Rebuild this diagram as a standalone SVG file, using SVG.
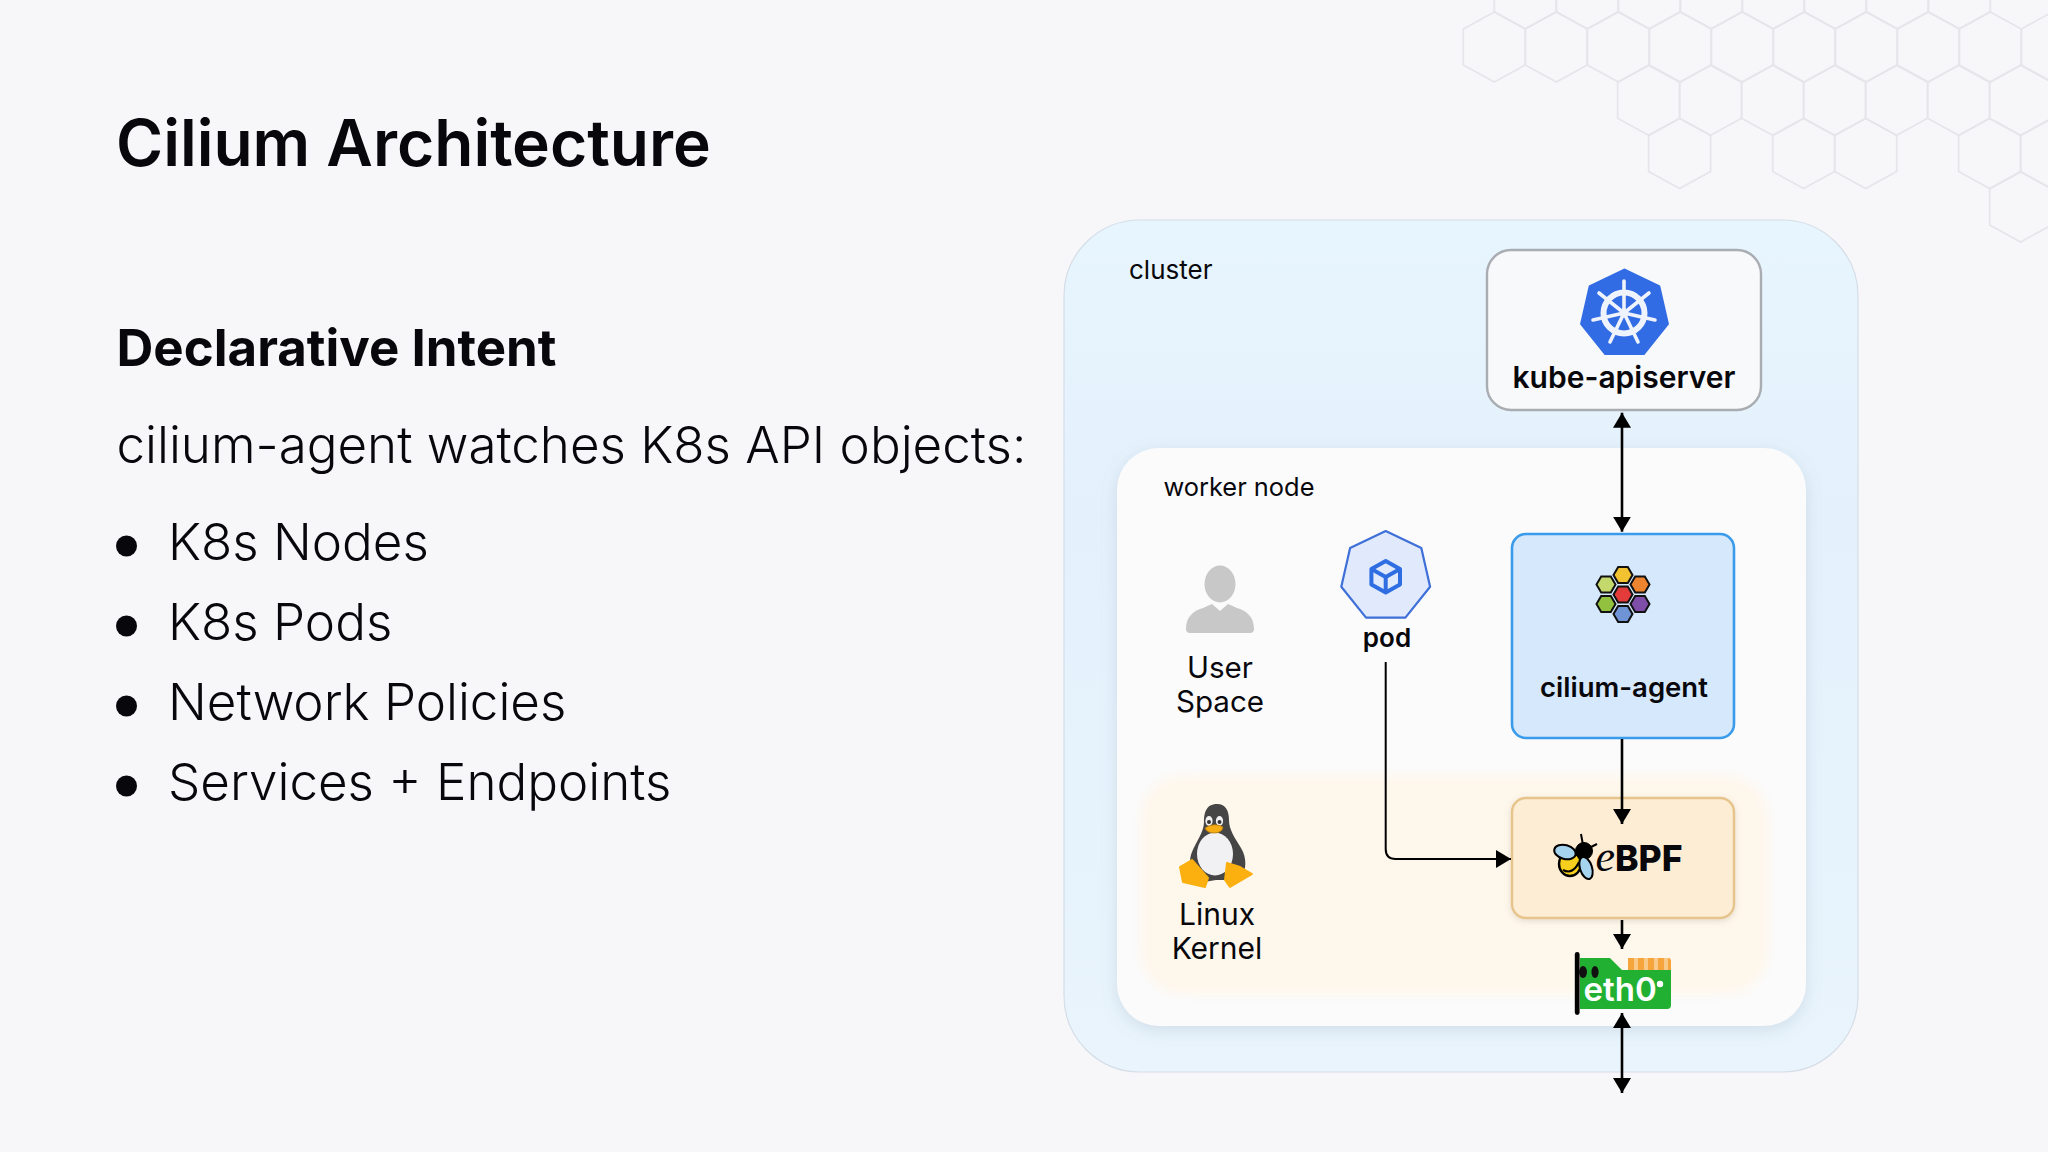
<svg xmlns="http://www.w3.org/2000/svg" xmlns:xlink="http://www.w3.org/1999/xlink" width="2048" height="1152" viewBox="0 0 2048 1152">
<style>
text{font-family:"Inter","Noto Sans",sans-serif;fill:#08080c}
.title{font-size:64px;font-weight:600}
.h2{font-size:51px;font-weight:700}
.body{font-size:51.1px;font-weight:300}
.lbl{font-size:26px;font-weight:400}
.lbl2{font-size:29.6px;font-weight:400;text-anchor:middle}
.b{font-weight:600;text-anchor:middle}
.hex{fill:none;stroke:#e5e5ea;stroke-width:1.7}
.conn{fill:none;stroke:#000;stroke-width:2.6}
.arr{marker-end:url(#ah)}
.both{marker-end:url(#ah);marker-start:url(#ah)}
.ch{stroke:#111;stroke-width:2}
</style>
<defs>
<marker id="ah" viewBox="0 0 15 18" refX="15" refY="9" markerWidth="15" markerHeight="18" markerUnits="userSpaceOnUse" orient="auto-start-reverse"><path d="M0,0 L15,9 L0,18 Z" fill="#000"/></marker>
<polygon id="hx" class="hex" points="0,-35 31,-18 31,18 0,35 -31,18 -31,-18"/>
<polygon id="ch" points="-9.5,0 -4.8,-8 4.8,-8 9.5,0 4.8,8 -4.8,8"/>
<linearGradient id="clusterG" x1="0" y1="0" x2="0" y2="1"><stop offset="0" stop-color="#e7f5fe"/><stop offset="0.35" stop-color="#e4f1fc"/><stop offset="1" stop-color="#e9f4fc"/></linearGradient>
<filter id="soft" x="-10%" y="-10%" width="120%" height="120%"><feDropShadow dx="0" dy="4" stdDeviation="8" flood-color="#7a8ca0" flood-opacity="0.22"/></filter>
<filter id="blur" x="-10%" y="-20%" width="120%" height="140%"><feGaussianBlur stdDeviation="6"/></filter>
<filter id="sm" x="-10%" y="-10%" width="120%" height="130%"><feDropShadow dx="0" dy="2" stdDeviation="3" flood-color="#8a7a5a" flood-opacity="0.22"/></filter>
</defs>
<rect width="2048" height="1152" fill="#f7f7fa"/>
<g id="hex-pattern">
<use href="#hx" x="1525.3" y="-6.3"/><use href="#hx" x="1587.3" y="-6.3"/><use href="#hx" x="1649.3" y="-6.3"/><use href="#hx" x="1711.3" y="-6.3"/><use href="#hx" x="1773.3" y="-6.3"/><use href="#hx" x="1835.3" y="-6.3"/><use href="#hx" x="1897.3" y="-6.3"/><use href="#hx" x="1959.3" y="-6.3"/>
<use href="#hx" x="1494.3" y="47"/><use href="#hx" x="1556.3" y="47"/><use href="#hx" x="1618.3" y="47"/><use href="#hx" x="1680.3" y="47"/><use href="#hx" x="1742.3" y="47"/><use href="#hx" x="1804.3" y="47"/><use href="#hx" x="1866.3" y="47"/><use href="#hx" x="1928.3" y="47"/><use href="#hx" x="1990.3" y="47"/><use href="#hx" x="2052.3" y="47"/>
<use href="#hx" x="1648.6" y="100.3"/><use href="#hx" x="1710.6" y="100.3"/><use href="#hx" x="1772.6" y="100.3"/><use href="#hx" x="1834.6" y="100.3"/><use href="#hx" x="1896.6" y="100.3"/><use href="#hx" x="1958.6" y="100.3"/><use href="#hx" x="2020.6" y="100.3"/>
<use href="#hx" x="1679.6" y="153.6"/><use href="#hx" x="1803.7" y="153.6"/><use href="#hx" x="1865.7" y="153.6"/><use href="#hx" x="1989.6" y="153.6"/><use href="#hx" x="2051.6" y="153.6"/>
<use href="#hx" x="2020.6" y="207"/>
</g>
<text class="title" x="116" y="165.5">Cilium Architecture</text>
<text class="h2" x="116.5" y="366">Declarative Intent</text>
<text class="body" x="116.5" y="463">cilium-agent watches K8s API objects:</text>
<g id="bullets">
<circle cx="126.5" cy="546" r="10.5" fill="#08080c"/><text class="body" x="168" y="560">K8s Nodes</text>
<circle cx="126.5" cy="626" r="10.5" fill="#08080c"/><text class="body" x="168" y="640">K8s Pods</text>
<circle cx="126.5" cy="706" r="10.5" fill="#08080c"/><text class="body" x="168" y="720">Network Policies</text>
<circle cx="126.5" cy="786" r="10.5" fill="#08080c"/><text class="body" x="168" y="800">Services + Endpoints</text>
</g>
<g id="cluster">
<rect x="1064" y="220" width="794" height="852" rx="76" fill="url(#clusterG)" stroke="#d5dde6" stroke-width="1.2"/>
<text class="lbl" x="1129" y="279">cluster</text>
</g>
<g id="worker-node">
<rect x="1117" y="448" width="689" height="578" rx="42" fill="#fbfbfc" filter="url(#soft)"/>
<text class="lbl" style="font-size:25.4px" x="1163.5" y="495.5">worker node</text>
</g>
<g id="kernel-band"><rect x="1140" y="775" width="629" height="220" rx="44" fill="#fef7ec" filter="url(#blur)"/></g>
<g id="kube-apiserver">
<rect x="1487" y="250" width="274" height="160" rx="24" fill="#f8f9fa" stroke="#a9acb1" stroke-width="2.4"/>
<polygon points="1624.5,270 1658.9,286.6 1667.4,323.8 1643.6,353.6 1605.4,353.6 1581.6,323.8 1590.1,286.6" fill="#326ce5" stroke="#326ce5" stroke-width="3" stroke-linejoin="round"/>
<g stroke="#eef3fd" fill="none" stroke-linecap="round"><circle cx="1624" cy="313" r="20.5" stroke-width="6"/><path stroke-width="3.6" d="M1624 313V281M1624 313L1649 293M1624 313L1655 320M1624 313L1638 342M1624 313L1610 342M1624 313L1593 320M1624 313L1599 293"/></g>
<circle cx="1624" cy="313" r="4.5" fill="#eef3fd"/>
<text class="b" x="1624" y="388" style="font-size:30px">kube-apiserver</text>
</g>
<g id="user-space">
<ellipse cx="1220" cy="584" rx="15.5" ry="18.5" fill="#c8c8c8"/>
<path d="M1186 629 C1186 617 1193 611 1203 608 L1212 604 L1220 611 L1228 604 L1237 608 C1247 611 1254 617 1254 629 Q1254 633 1250 633 H1190 Q1186 633 1186 629Z" fill="#c8c8c8"/>
<text class="lbl2" x="1220" y="678">User</text><text class="lbl2" x="1220" y="711.5">Space</text>
</g>
<g id="pod">
<polygon points="1385.7,531 1421.3,548.1 1430.1,586.7 1405.4,617.6 1366,617.6 1341.3,586.7 1350.1,548.1" fill="#e0eafc" stroke="#3f6fd8" stroke-width="2.2" stroke-linejoin="round"/>
<g fill="none" stroke="#2f6ee2" stroke-width="4" stroke-linejoin="round"><polygon points="1385.7,561 1400,569 1400,584.5 1385.7,592.5 1371.4,584.5 1371.4,569"/><path d="M1371.4 569L1385.7 577L1400 569M1385.7 577V592.5"/></g>
<text class="b" x="1387" y="647" style="font-size:26px">pod</text>
</g>
<g id="cilium-agent">
<rect x="1512" y="534" width="222" height="204" rx="14" fill="#d6e9fc" stroke="#3a9bea" stroke-width="2.6"/>
<use href="#ch" x="1623" y="575" fill="#f2c230" class="ch"/><use href="#ch" x="1640" y="584.5" fill="#ec8430" class="ch"/><use href="#ch" x="1640" y="604" fill="#7f4ea8" class="ch"/><use href="#ch" x="1623" y="614" fill="#6f94d6" class="ch"/><use href="#ch" x="1606" y="604" fill="#92c140" class="ch"/><use href="#ch" x="1606" y="584.5" fill="#c3d96c" class="ch"/><use href="#ch" x="1623" y="594.5" fill="#e33a3a" class="ch"/>
<text class="b" x="1624" y="697" style="font-size:27.5px">cilium-agent</text>
</g>
<g id="ebpf">
<rect x="1512" y="798" width="222" height="120" rx="14" fill="#fdedd4" stroke="#e6c48c" stroke-width="2.4" filter="url(#sm)"/>
<g stroke="#000" stroke-linejoin="round">
<ellipse cx="1570" cy="864" rx="11" ry="12" fill="#f7cf1d" stroke-width="2.4"/>
<path d="M1563 870Q1573 875 1579 862" fill="none" stroke-width="2"/>
<circle cx="1584" cy="851" r="8.5" fill="#000"/>
<path d="M1583 845L1581 834M1589 848L1597 844" fill="none" stroke-width="2"/>
<ellipse cx="1565" cy="852" rx="11" ry="7" fill="#a6d4ef" stroke-width="2" transform="rotate(15 1565 852)"/>
<ellipse cx="1586" cy="868" rx="6" ry="11.5" fill="#a6d4ef" stroke-width="2" transform="rotate(-18 1586 868)"/>
</g>
<text x="1595.5" y="871" style="font-size:35.5px;font-weight:800"><tspan style="font-family:'Liberation Serif',serif;font-style:italic;font-weight:400;font-size:44px">e</tspan><tspan>BPF</tspan></text>
</g>
<g id="linux-kernel">
<path d="M1217 804C1206 804 1204 813 1204 822C1204 832 1196 842 1192 852C1187 864 1192 878 1204 882L1216 880H1226L1240 880C1247 870 1247 858 1241 848C1235 838 1229 830 1229 820C1229 811 1226 804 1217 804Z" fill="#454545"/>
<ellipse cx="1215" cy="854" rx="18" ry="21.5" fill="#f1f1f3"/>
<ellipse cx="1209" cy="821" rx="3.6" ry="5" fill="#f1f1f3"/><ellipse cx="1219.5" cy="821" rx="3.6" ry="5" fill="#f1f1f3"/>
<circle cx="1209" cy="822" r="2" fill="#333"/><circle cx="1219.5" cy="822" r="2" fill="#333"/>
<path d="M1205 828Q1214 822 1223 827Q1222 833 1214 833Q1207 833 1205 828Z" fill="#f7ad13" stroke="#b67c0a" stroke-width="0.8"/>
<path d="M1180 867L1192 860L1208 878L1205 887L1183 882Z" fill="#fbb010" stroke="#fbb010" stroke-width="2" stroke-linejoin="round"/>
<path d="M1227 863L1240 867L1252 874L1230 887L1225 880Z" fill="#fbb010" stroke="#fbb010" stroke-width="2" stroke-linejoin="round"/>
<text class="lbl2" style="font-size:30px" x="1217" y="925">Linux</text><text class="lbl2" style="font-size:30px" x="1217" y="959">Kernel</text>
</g>
<g id="eth0">
<path d="M1628 958H1668Q1671 958 1671 961V972H1628Z" fill="#f6a43c"/>
<path d="M1634 958h4v13h-4ZM1644 958h4v13h-4ZM1654 958h4v13h-4ZM1664 958h4v13h-4Z" fill="#f9c98a"/>
<path d="M1580 958H1610L1622 970H1671V1005Q1671 1009 1667 1009H1580Z" fill="#22b033"/>
<rect x="1574.8" y="952" width="4.8" height="63" rx="2.4" fill="#000"/>
<ellipse cx="1583" cy="972" rx="4" ry="6" fill="#111"/><ellipse cx="1595" cy="972" rx="3.6" ry="6" fill="#111"/>
<text x="1583.5" y="1001" style="font-size:33px;font-weight:600;fill:#fff">eth0</text>
<circle cx="1660" cy="984" r="3.2" fill="#fff"/>
</g>
<g id="connectors">
<path class="conn both" d="M1622 412.7V531.7"/>
<path class="conn arr" d="M1622 739V824"/>
<path class="conn arr" d="M1622 920V949"/>
<path class="conn both" d="M1622 1013V1093"/>
<path class="conn arr" style="stroke-width:2" d="M1385.7 662V849Q1385.7 859 1395.7 859H1511"/>
</g>
</svg>
